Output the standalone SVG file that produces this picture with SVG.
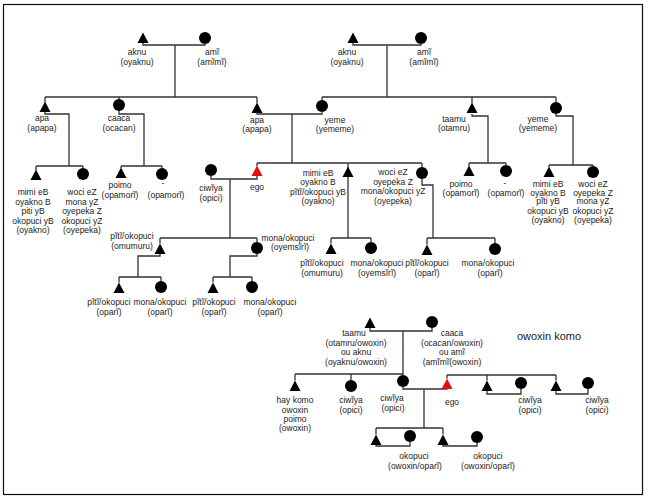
<svg xmlns="http://www.w3.org/2000/svg" width="651" height="501" viewBox="0 0 651 501">
<style>
text{font-family:"Liberation Sans",Arial,sans-serif;font-size:8.5px;fill:#222;text-anchor:middle}
.title{font-size:11px}
.ln{fill:none;stroke:#333;stroke-width:1.3}
.m{fill:#000}
.ego{fill:#e3100f}
</style>
<defs>
<path id="tri" d="M0,-5.5 L5.5,5 L-5.5,5 Z"/>
<circle id="cir" r="6"/>
</defs>
<rect x="3.5" y="4.5" width="639" height="490" fill="#fff" stroke="#111" stroke-width="1.2"/>
<g id="connectors" class="ln">
<path d="M143,43 V45 H205 V44 M175,45 V97 M45,97 H257 M45,97 V102 M119,97 V99 M257,97 V103"/>
<path d="M353,43 V45 H421 V44 M387,45 V97 M322,97 H556 M322,97 V100 M472,97 V103 M556,97 V102"/>
<path d="M45,112 V114 H69 V166 M119,111 V114 H144 V166"/>
<path d="M36,166 H83 M36,166 V170 M83,166 V168 M121,166 H162 M121,166 V168 M162,166 V168"/>
<path d="M257,113 V114 H322 V112 M292,114 V163"/>
<path d="M472,114 V116 H488 V163 M556,114 V116 H573 V165"/>
<path d="M469,163 H506 M469,163 V166 M506,163 V165 M549,165 H593 M549,165 V167 M593,165 V166"/>
<path d="M257,163 H422 M257,163 V166 M348,163 V238 M422,163 V167"/>
<path d="M211,176 V179 H257 V176 M230,179 V238"/>
<path d="M160,238 H257 M160,238 V243.5 M257,238 V242"/>
<path d="M160,254 V256 H138 V277 M119,277 H161 M119,277 V282.5 M161,277 V281"/>
<path d="M257,254 V256 H230 V277 M213,277 H252 M213,277 V282.5 M252,277 V281"/>
<path d="M331,238 H371 M331,238 V243.5 M371,238 V242"/>
<path d="M422,179 V185 H433 V238 M427,238 H495 M427,238 V244.5 M495,238 V243"/>
<path d="M370,328 V331 H432 V328 M403,331 V375"/>
<path d="M295,374 H403 M295,374 V380.5 M351,374 V380"/>
<path d="M403,387 V389 H447 V388.5 M424,389 V428"/>
<path d="M447,375 H556 M447,375 V378.5 M487,375 V380.5 M556,375 V380.5"/>
<path d="M487,391 V394 H521 V389 M556,391 V394 H588 V389"/>
<path d="M376,428 H443 M376,428 V434.5 M443,428 V434.5"/>
<path d="M376,445 V446 H410 V442 M443,445 V446 H477 V443"/>
</g>
<g id="aknu1"><use href="#tri" x="143" y="38" class="m"/><text x="137" y="55">aknu</text><text x="137" y="65">(oyaknu)</text></g>
<g id="ami1"><use href="#cir" x="205" y="38" class="m"/><text x="212" y="55">amĩ</text><text x="212" y="65">(amĩmĩ)</text></g>
<g id="aknu2"><use href="#tri" x="353" y="38" class="m"/><text x="347" y="55">aknu</text><text x="347" y="65">(oyaknu)</text></g>
<g id="ami2"><use href="#cir" x="421" y="38" class="m"/><text x="424" y="55">amĩ</text><text x="424" y="65">(amĩmĩ)</text></g>
<g id="apa1"><use href="#tri" x="45" y="107" class="m"/><text x="42" y="121">apa</text><text x="42" y="131">(apapa)</text></g>
<g id="caaca1"><use href="#cir" x="119" y="105" class="m"/><text x="119" y="121">caaca</text><text x="119" y="131">(ocacan)</text></g>
<g id="apa2"><use href="#tri" x="257" y="108" class="m"/><text x="257" y="123">apa</text><text x="257" y="132">(apapa)</text></g>
<g id="yeme1"><use href="#cir" x="322" y="106" class="m"/><text x="335" y="123">yeme</text><text x="335" y="132">(yememe)</text></g>
<g id="taamu1"><use href="#tri" x="472" y="108" class="m"/><text x="454" y="122">taamu</text><text x="454" y="131">(otamru)</text></g>
<g id="yeme2"><use href="#cir" x="556" y="108" class="m"/><text x="538" y="122">yeme</text><text x="538" y="131">(yememe)</text></g>
<g id="mimi1"><use href="#tri" x="36" y="175" class="m"/><text x="33" y="195">mimi eB</text><text x="33" y="204.5">oyakno B</text><text x="33" y="214">piti yB</text><text x="33" y="223.5">okopuci yB</text><text x="33" y="233">(oyakno)</text></g>
<g id="woci1"><use href="#cir" x="83" y="174" class="m"/><text x="82" y="195">woci eZ</text><text x="82" y="204.5">mona yZ</text><text x="82" y="214">oyepeka Z</text><text x="82" y="223.5">okopuci yZ</text><text x="82" y="233">(oyepeka)</text></g>
<g id="poimo1"><use href="#tri" x="121" y="173" class="m"/><text x="120" y="188">poimo</text><text x="120" y="198">(opamorĩ)</text></g>
<g id="dash1"><use href="#cir" x="162" y="174" class="m"/><text x="163" y="186">-</text><text x="166" y="198">(opamorĩ)</text></g>
<g id="poimo2"><use href="#tri" x="469" y="171" class="m"/><text x="461" y="187">poimo</text><text x="461" y="196">(opamorĩ)</text></g>
<g id="dash2"><use href="#cir" x="506" y="171" class="m"/><text x="505" y="186">-</text><text x="506" y="196">(opamorĩ)</text></g>
<g id="mimi2"><use href="#tri" x="549" y="172" class="m"/><text x="548" y="187">mimi eB</text><text x="548" y="195.5">oyakno B</text><text x="548" y="204">pĩti yB</text><text x="548" y="213.5">okopuci yB</text><text x="548" y="223">(oyakno)</text></g>
<g id="woci2"><use href="#cir" x="593" y="172" class="m"/><text x="593" y="187">woci eZ</text><text x="593" y="195.5">oyepeka Z</text><text x="593" y="204">mona yZ</text><text x="593" y="213.5">okopuci yZ</text><text x="593" y="223">(oyepeka)</text></g>
<g id="ciwiya1"><use href="#cir" x="211" y="170" class="m"/><text x="211" y="191">ciwĩya</text><text x="211" y="201">(opici)</text></g>
<g id="ego1"><use href="#tri" x="257" y="171" class="ego"/><text x="257" y="190">ego</text></g>
<g id="mimi3"><use href="#tri" x="348" y="172" class="m"/><text x="318" y="175.5">mimi eB</text><text x="318" y="185">oyakno B</text><text x="318" y="194.5">pĩtĩ/okopuci yB</text><text x="318" y="204">(oyakno)</text></g>
<g id="woci3"><use href="#cir" x="422" y="173" class="m"/><text x="393" y="175">woci eZ</text><text x="393" y="184.5">oyepeka Z</text><text x="393" y="194">mona/okopuci yZ</text><text x="393" y="204">(oyepeka)</text></g>
<g id="omumuru1"><use href="#tri" x="160" y="249" class="m"/><text x="132" y="239">pĩtĩ/okopuci</text><text x="132" y="249">(omumuru)</text></g>
<g id="oyemsiri1"><use href="#cir" x="257" y="248" class="m"/><text x="288" y="241">mona/okopuci</text><text x="290" y="250">(oyemsĩrĩ)</text></g>
<g id="opari1"><use href="#tri" x="119" y="288" class="m"/><text x="109" y="305">pĩtĩ/okopuci</text><text x="109" y="315">(oparĩ)</text></g>
<g id="opari2"><use href="#cir" x="161" y="287" class="m"/><text x="160" y="305">mona/okopuci</text><text x="160" y="315">(oparĩ)</text></g>
<g id="opari3"><use href="#tri" x="213" y="288" class="m"/><text x="214" y="305">pĩtĩ/okopuci</text><text x="214" y="315">(oparĩ)</text></g>
<g id="opari4"><use href="#cir" x="252" y="287" class="m"/><text x="270" y="305">mona/okopuci</text><text x="270" y="315">(oparĩ)</text></g>
<g id="omumuru2"><use href="#tri" x="331" y="249" class="m"/><text x="322" y="266">pĩtĩ/okopuci</text><text x="322" y="275.5">(omumuru)</text></g>
<g id="oyemsiri2"><use href="#cir" x="371" y="248" class="m"/><text x="377" y="266">mona/okopuci</text><text x="377" y="275.5">(oyemsĩrĩ)</text></g>
<g id="opari5"><use href="#tri" x="427" y="250" class="m"/><text x="427" y="266">pĩtĩ/okopuci</text><text x="427" y="275.5">(oparĩ)</text></g>
<g id="opari6"><use href="#cir" x="495" y="249" class="m"/><text x="488" y="266">mona/okopuci</text><text x="490" y="275.5">(oparĩ)</text></g>
<g id="owoxin-title"><text class="title" x="549" y="340">owoxin komo</text></g>
<g id="taamu2"><use href="#tri" x="370" y="323" class="m"/><text x="354" y="336">taamu</text><text x="356" y="346">(otamru/owoxin)</text><text x="356" y="355">ou aknu</text><text x="356" y="365">(oyaknu/owoxin)</text></g>
<g id="caaca2"><use href="#cir" x="432" y="322" class="m"/><text x="452" y="336">caaca</text><text x="452" y="346">(ocacan/owoxin)</text><text x="452" y="355">ou amĩ</text><text x="452" y="365">(amĩmĩ(owoxin)</text></g>
<g id="haykomo"><use href="#tri" x="295" y="386" class="m"/><text x="295" y="403">hay komo</text><text x="295" y="413">owoxin</text><text x="295" y="422">poimo</text><text x="295" y="431">(owoxin)</text></g>
<g id="ciwiya2"><use href="#cir" x="351" y="386" class="m"/><text x="351" y="403">ciwĩya</text><text x="351" y="413">(opici)</text></g>
<g id="ciwiya3"><use href="#cir" x="403" y="381" class="m"/><text x="392" y="401">ciwĩya</text><text x="393" y="411">(opici)</text></g>
<g id="ego2"><use href="#tri" x="447" y="384" class="ego"/><text x="452" y="405">ego</text></g>
<g id="bro1"><use href="#tri" x="487" y="386" class="m"/></g>
<g id="ciwiya4"><use href="#cir" x="521" y="383" class="m"/><text x="530" y="403">ciwĩya</text><text x="530" y="413">(opici)</text></g>
<g id="bro2"><use href="#tri" x="556" y="386" class="m"/></g>
<g id="ciwiya5"><use href="#cir" x="588" y="383" class="m"/><text x="597" y="403">ciwĩya</text><text x="597" y="413">(opici)</text></g>
<g id="child1"><use href="#tri" x="376" y="440" class="m"/></g>
<g id="okopuci1"><use href="#cir" x="410" y="436" class="m"/><text x="414" y="459">okopuci</text><text x="415" y="469">(owoxin/oparĩ)</text></g>
<g id="child2"><use href="#tri" x="443" y="440" class="m"/></g>
<g id="okopuci2"><use href="#cir" x="477" y="437" class="m"/><text x="488" y="459">okopuci</text><text x="488" y="469">(owoxin/oparĩ)</text></g>
</svg>
